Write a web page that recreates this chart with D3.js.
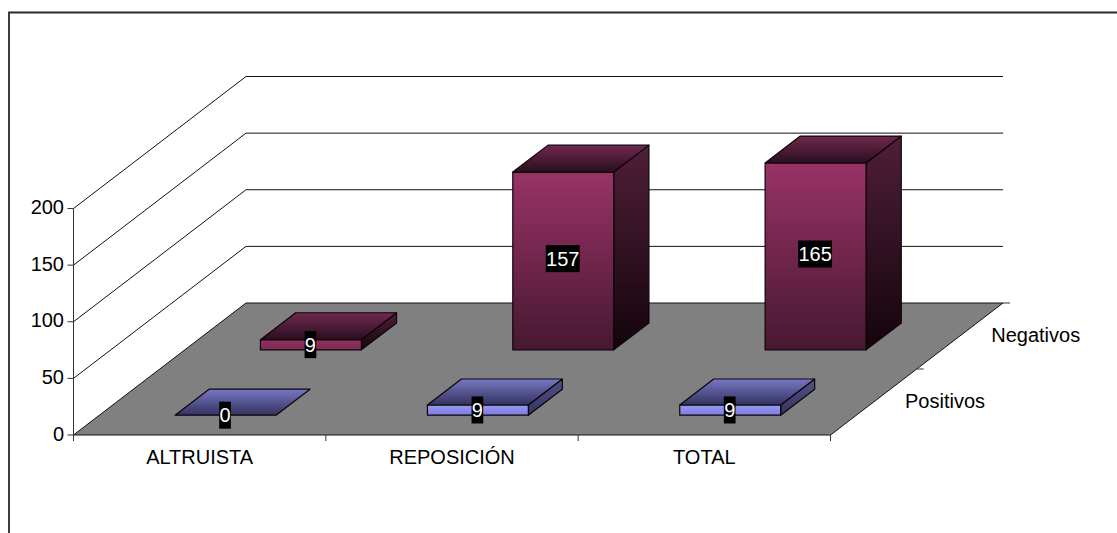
<!DOCTYPE html>
<html><head><meta charset="utf-8">
<script src="https://cdn.jsdelivr.net/npm/d3@7"></script>
<style>html,body{margin:0;padding:0;background:#fff}svg{display:block}text{font-family:"Liberation Sans",Arial,sans-serif;font-size:20px;fill:#000}</style>
</head><body><div id="c"></div>
<script>
const categories = ["ALTRUISTA","REPOSICIÓN","TOTAL"];
const seriesNames = ["Positivos","Negativos"];
const positivos = [0,9,9];
const negativos = [9,157,165];
const yTicks = [0,50,100,150,200];

const W=1117,H=533;
const svg=d3.select("#c").append("svg").attr("width",W).attr("height",H);
const defs=svg.append("defs");
function grad(id,top,bot){
  const g=defs.append("linearGradient").attr("id",id).attr("x1",0).attr("y1",0).attr("x2",0).attr("y2",1);
  g.append("stop").attr("offset",0).attr("stop-color",top);
  g.append("stop").attr("offset",1).attr("stop-color",bot);
}
const pal=[
 {front:["#9999f5","#7c7cdc"],frontTall:["#9999f5","#4d4d80"],top:["#7777c4","#33335f"],side:["#52528a","#333360"]},
 {front:["#93305f","#7d2a52"],frontTall:["#993366","#471830"],top:["#70284f","#2a0f1e"],side:["#4f1f38","#14040c"]}
];
pal.forEach((p,i)=>{grad("f"+i,...p.front);grad("ft"+i,...p.frontTall);grad("t"+i,...p.top);grad("s"+i,...p.side);});

// projection scales
const cat=d3.scaleLinear().domain([0,3]).range([0,757]);
const depthX=d3.scaleLinear().domain([0,1]).range([0,172.5]);
const depthY=d3.scaleLinear().domain([0,1]).range([0,-132]);
const val=d3.scaleLinear().domain([0,200]).range([0,-226.5]);
const X0=73.5,Y0=435;
const px=(u,d)=>X0+cat(u)+depthX(d);
const py=(d,v)=>Y0+depthY(d)+val(v);
const P=(u,d,v)=>[px(u,d),py(d,v)];
const poly=a=>"M"+a.map(p=>p.join(",")).join("L")+"Z";
const line=a=>"M"+a.map(p=>p.join(",")).join("L");

// frame
svg.append("path").attr("d",`M9,${H}V12.5H${W}`).attr("fill","none").attr("stroke","#2a2a2a").attr("stroke-width",1.8);

// walls
const g=svg.append("g");
g.selectAll("path.grid").data(yTicks.slice(1)).join("path").attr("class","grid")
 .attr("d",v=>line([P(0,0,v),P(0,1,v),P(3,1,v)])).attr("fill","none").attr("stroke","#111").attr("stroke-width",1);

// floor
g.append("path").attr("d",poly([P(0,0,0),P(0,1,0),P(3,1,0),P(3,0,0)])).attr("fill","#808080").attr("stroke","#111").attr("stroke-width",1);

// axes
g.append("path").attr("d",line([[px(0,0),py(0,200)],[px(0,0),Y0+6]])).attr("fill","none").attr("stroke","#333");
g.selectAll("path.yt").data(yTicks).join("path").attr("class","yt").attr("d",v=>line([[px(0,0)-6,py(0,v)],[px(0,0),py(0,v)]])).attr("stroke","#333").attr("fill","none");
g.selectAll("text.yl").data(yTicks).join("text").attr("class","yl").attr("x",px(0,0)-9.5).attr("y",v=>py(0,v)+5.5).attr("text-anchor","end").text(v=>v);
g.selectAll("path.xt").data([0,1,2,3]).join("path").attr("class","xt").attr("d",u=>line([[px(u,0),Y0],[px(u,0),Y0+6]])).attr("stroke","#333").attr("fill","none");
g.selectAll("text.xl").data(categories).join("text").attr("class","xl").attr("x",(d,i)=>px(i+.5,0)).attr("y",464).attr("text-anchor","middle").text(d=>d);
g.selectAll("path.zt").data([.5,1]).join("path").attr("class","zt").attr("d",d=>line([[px(3,d),py(d,0)],[px(3,d)+7,py(d,0)]])).attr("stroke","#333").attr("fill","none");
g.selectAll("text.zl").data(seriesNames).join("text").attr("class","zl").attr("x",(d,i)=>px(3,i*.5)+74.5).attr("y",(d,i)=>py(i*.5,0)-27.5).text(d=>d);

// bars
const zf=[.15,.645],zd=[.197,.204];
[negativos,positivos].forEach((vals,k)=>{
  const si=1-k, d0=zf[si], d1=d0+zd[si];
  vals.forEach((v,i)=>{
    const a=i+.3,b=i+.7;
    const b_=g.append("g");
    const tall=v>50;
    if(v>0){
      b_.append("path").attr("d",poly([P(b,d0,0),P(b,d1,0),P(b,d1,v),P(b,d0,v)])).attr("fill",`url(#s${si})`).attr("stroke","#0d0308").attr("stroke-width",1.2).attr("stroke-linejoin","round");
      b_.append("path").attr("d",poly([P(a,d0,0),P(b,d0,0),P(b,d0,v),P(a,d0,v)])).attr("fill",`url(#${tall?"ft":"f"}${si})`).attr("stroke","#0d0308").attr("stroke-width",1.2).attr("stroke-linejoin","round");
    }
    b_.append("path").attr("d",poly([P(a,d0,v),P(b,d0,v),P(b,d1,v),P(a,d1,v)])).attr("fill",`url(#t${si})`).attr("stroke","#0d0308").attr("stroke-width",1.2).attr("stroke-linejoin","round");
  });
});
// data labels
[positivos,negativos].forEach((vals,si)=>{
  vals.forEach((v,i)=>{
    const cx=px(i+.5,zf[si])-.5, cy=py(zf[si],v*.513);
    const w=String(v).length*11.1+.6;
    g.append("rect").attr("x",cx-w/2).attr("y",cy-13.5).attr("width",w).attr("height",27).attr("fill","#000");
    g.append("text").attr("x",cx).attr("y",cy+7).attr("text-anchor","middle").style("fill","#fff").text(v);
  });
});
</script></body></html>
